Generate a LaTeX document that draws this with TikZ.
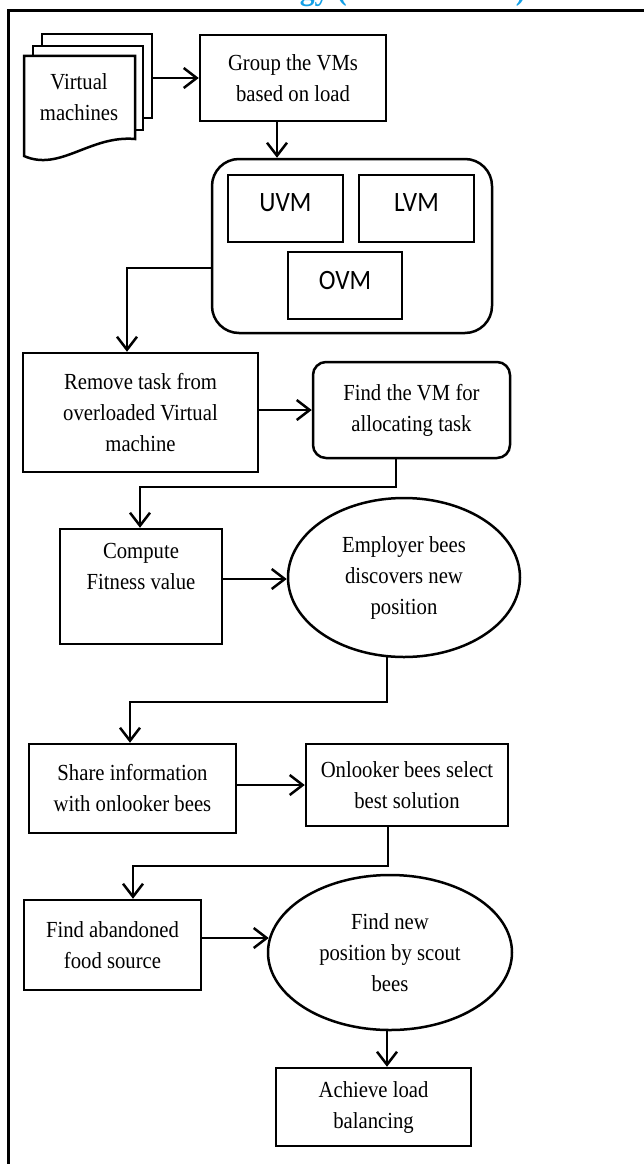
\documentclass[tikz,border=0pt]{standalone}
\usepackage{fontspec}
\setmainfont{Liberation Serif}[FakeStretch=0.9]
\newfontfamily\calfont{Carlito}[FakeStretch=0.9]
\usetikzlibrary{arrows.meta,shapes.geometric,calc}
\definecolor{titleblue}{RGB}{20,160,230}
\begin{document}
\begin{tikzpicture}[x=1pt,y=-1pt,
  lw/.style={line width=2.5pt},
  txt/.style={align=center,font=\fontsize{23}{31}\selectfont},
  box/.style={draw,lw,rectangle,txt,inner sep=0pt},
  rbox/.style={box,rounded corners=13pt},
  oval/.style={draw,lw,ellipse,txt,inner sep=0pt},
  vmbox/.style={draw,lw,rectangle,inner sep=0pt,font=\calfont\fontsize{28}{32}\selectfont,text depth=11pt,minimum width=115pt,minimum height=67pt},
  page/.style={draw,lw,fill=white,rectangle,inner sep=0pt,minimum width=110pt,minimum height=84pt},
  arr/.style={lw,-{Straight Barb[length=13pt,width=20pt]}}]
\useasboundingbox (0,0) rectangle (644,1164);
\clip (0,0) rectangle (644,1164);
% cut-off title (only its lowest part lies inside the picture)
\node[anchor=base east,inner sep=0pt,text=titleblue,font=\bfseries\fontsize{33}{36}\selectfont] (title) at (526,0) {Methodology (ABC Method)};
% outer frame
\draw[line width=3pt] (8,10.3) rectangle (720,1250);
% document stack
\node[page] (vm3) at (97,76) {};
\node[page] (vm2) at (88,88) {};
\draw[lw,fill=white] (24,56) -- (135,56) -- (135,139) .. controls (90,135) and (60,172) .. (24,156) -- cycle;
\node[txt] (vm) at (79,97) {Virtual\\machines};
% boxes
\node[box,minimum width=186pt,minimum height=86pt] (grp) at (293,78) {Group the VMs\\based on load};
\node[draw,lw,rounded corners=27pt,minimum width=280pt,minimum height=174pt,inner sep=0pt] (cont) at (352,246) {};
\node[vmbox] (uvm) at (285.5,208.5) {UVM};
\node[vmbox] (lvm) at (416.5,208.5) {LVM};
\node[vmbox,minimum width=114pt] (ovm) at (345,285.5) {OVM};
\node[box,minimum width=235pt,minimum height=119pt] (rem) at (140.5,412.5) {Remove task from\\overloaded Virtual\\machine};
\node[rbox,minimum width=197pt,minimum height=96pt] (fvm) at (411.5,410) {Find the VM for\\allocating task};
\node[box,minimum width=162pt,minimum height=115pt] (cmp) at (141,586.5) {Compute\\Fitness value\\\strut};
\node[oval,minimum width=232pt,minimum height=159pt] (emp) at (404,577.5) {Employer bees\\discovers new\\position};
\node[box,minimum width=207pt,minimum height=89pt] (shr) at (132.5,788.5) {Share information\\with onlooker bees};
\node[box,minimum width=202pt,minimum height=82pt] (onl) at (407,785) {Onlooker bees select\\best solution};
\node[box,minimum width=177pt,minimum height=90pt] (fab) at (112.5,945) {Find abandoned\\food source};
\node[oval,minimum width=244pt,minimum height=155pt] (fnp) at (390,952.5) {Find new\\position by scout\\bees};
\node[box,minimum width=195pt,minimum height=78pt] (ach) at (373.5,1107) {Achieve load\\balancing};
% junction levels
\coordinate (j1) at (0,487);
\coordinate (j2) at (0,702);
\coordinate (j3) at (0,866);
% connectors
\draw[arr] (vm3.east |- grp.west) -- (grp.west);
\draw[arr] ([xshift=-16pt]grp.south) -- ([xshift=-16pt]grp.south |- cont.north);
\draw[arr] ([yshift=-22pt]cont.west) -| ([xshift=-13.5pt]rem.north);
\draw[arr] (rem.east |- fvm.west) -- (fvm.west);
\draw[arr] ([xshift=-15.5pt]fvm.south) -- ([xshift=-15.5pt]fvm.south |- j1) -- ([xshift=-1pt]cmp.north |- j1) -- ([xshift=-1pt]cmp.north);
\draw[arr] ([yshift=-1.5pt]cmp.east |- emp.west) -- ([yshift=-1.5pt]emp.west);
\draw[arr] (emp.-102) -- (emp.-102 |- j2) -- ([xshift=-2.5pt]shr.north |- j2) -- ([xshift=-2.5pt]shr.north);
\draw[arr] (shr.east |- onl.west) -- (onl.west);
\draw[arr] ([xshift=-19pt]onl.south) -- ([xshift=-19pt]onl.south |- j3) -- ([xshift=20.5pt]fab.north |- j3) -- ([xshift=20.5pt]fab.north);
\draw[arr] ([yshift=7pt]fab.east) -- ([yshift=7pt,xshift=2pt]fab.east -| fnp.west);
\draw[arr] ([xshift=-3pt]fnp.south) -- ([xshift=-3pt]fnp.south |- ach.north);
\end{tikzpicture}
\end{document}
